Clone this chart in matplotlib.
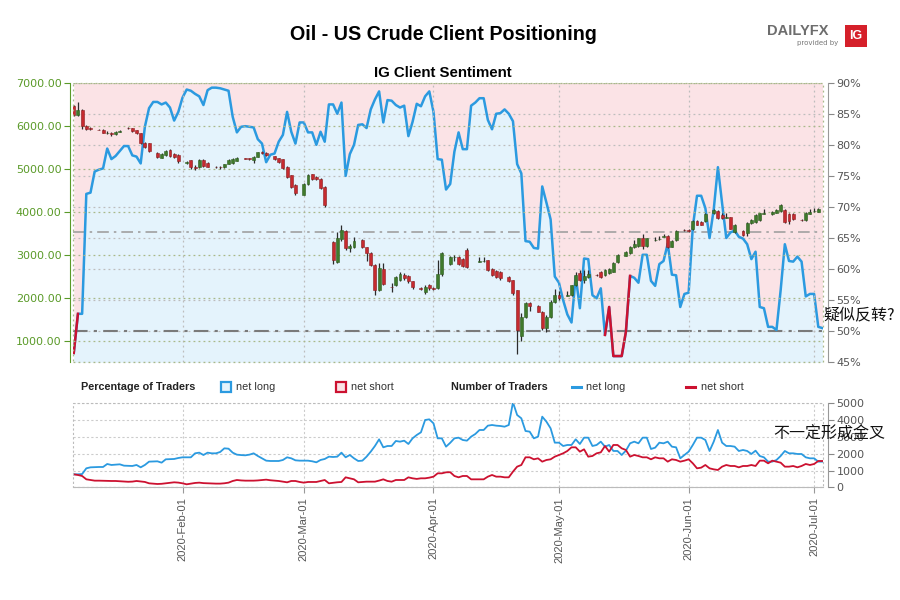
import matplotlib
matplotlib.use("Agg")
import matplotlib.pyplot as plt
import matplotlib.dates as mdates
from matplotlib.patches import Rectangle
from matplotlib.ticker import FuncFormatter
import numpy as np
import pandas as pd

# ---------------- data ----------------
first_day = "2020-01-06"

# % of clients net long, one value per calendar day from 2020-01-06
pct_long = [
    46.5, 52.8, 52.8, 72.1, 72.3, 75.7, 76.0, 76.2, 79.4, 77.7, 78.2, 79.0, 79.8, 79.8, 78.3, 78.1,
    77.0, 82.9, 85.9, 86.9, 86.9, 86.5, 86.8, 86.0, 83.9, 85.3, 87.6, 88.9, 88.7, 88.2, 87.8, 86.4,
    88.8, 89.2, 89.2, 89.1, 88.9, 88.7, 84.5, 82.0, 82.9, 83.0, 82.9, 82.8, 80.9, 80.2, 77.2, 78.4,
    78.6, 80.5, 81.6, 85.3, 82.1, 80.2, 83.6, 83.6, 82.0, 82.0, 80.0, 82.1, 80.5, 86.5, 86.5, 85.0,
    86.8, 75.0, 78.5, 80.0, 83.2, 83.3, 82.7, 85.7, 87.3, 88.6, 83.6, 87.2, 87.1, 86.4, 86.0, 86.3,
    81.4, 83.7, 86.6, 86.2, 87.8, 88.6, 85.3, 77.7, 77.6, 72.8, 73.7, 78.9, 82.0, 79.3, 79.3, 86.3,
    86.8, 87.5, 87.5, 84.0, 82.5, 85.0, 85.1, 85.7, 85.0, 83.8, 76.9, 75.4, 64.5, 64.4, 63.4, 63.3,
    73.3, 70.7, 68.0, 58.8, 57.8, 55.0, 52.7, 51.4, 58.8, 53.7, 61.7, 61.6, 55.8, 55.3, 56.9, 49.4,
    53.9, 46.0, 46.0, 46.0, 49.9, 58.9, 58.6, 57.8, 62.3, 62.3, 58.1, 57.3, 60.8, 61.3, 64.1, 59.1,
    59.0, 53.9, 56.0, 56.2, 66.8, 71.8, 71.8, 69.8, 65.0, 69.6, 76.4, 70.6, 65.0, 65.9, 66.2, 65.2,
    64.9, 64.0, 61.6, 62.8, 53.9, 53.7, 50.7, 50.7, 50.2, 56.6, 64.0, 61.3, 61.2, 62.0, 61.2, 55.6,
    56.0, 56.0, 50.7, 50.5,
]

traders_long = [
    774, 774, 790, 1131, 1190, 1200, 1210, 1210, 1389, 1330, 1350, 1369, 1290, 1280, 1270, 1330,
    1190, 1330, 1528, 1540, 1548, 1468, 1667, 1680, 1687, 1746, 1786, 1786, 1786, 2024, 2063, 1924,
    2063, 2024, 2024, 2103, 2321, 2300, 2063, 1944, 1920, 1905, 1944, 2024, 1865, 1726, 1587, 1567,
    1567, 1567, 1627, 1786, 1726, 1607, 1587, 1587, 1587, 1550, 1488, 1627, 1687, 1825, 1805, 1825,
    2063, 1786, 1925, 1726, 1567, 1587, 1825, 2123, 2460, 2857, 2381, 2460, 2460, 2758, 2718, 2777,
    2579, 2916, 3115, 3274, 4008, 4047, 3809, 2916, 2916, 2420, 2650, 2916, 2956, 2817, 2778, 3016,
    3174, 3412, 3412, 3670, 3710, 3670, 3650, 3610, 3710, 5059, 4305, 4107, 3353, 3313, 2916, 3016,
    4206, 3908, 3512, 2658, 2658, 2460, 2520, 2520, 2857, 2579, 2956, 2956, 2460, 2520, 2718, 2420,
    2520, 2163, 2163, 1925, 2182, 2619, 2718, 2619, 2956, 2956, 2281, 2361, 2658, 2619, 2718, 2420,
    2381, 1726, 1925, 2123, 2520, 2956, 2956, 2817, 2163, 2718, 3412, 2658, 2460, 2460, 2420, 2163,
    2222, 2163, 1984, 2182, 1865, 1786, 1528, 1528, 1627, 1865, 2163, 2024, 2024, 1984, 1984, 1786,
    1726, 1726, 1528, 1528,
]

traders_short = [
    774, 734, 675, 476, 436, 397, 397, 390, 377, 377, 377, 360, 337, 330, 340, 377,
    350, 320, 238, 218, 198, 210, 238, 270, 298, 280, 238, 179, 220, 260, 278, 250,
    238, 220, 220, 220, 240, 278, 377, 436, 410, 397, 397, 397, 410, 430, 456, 420,
    400, 377, 340, 298, 377, 377, 318, 278, 318, 318, 318, 377, 436, 238, 270, 300,
    318, 595, 536, 476, 298, 318, 337, 337, 337, 400, 476, 377, 337, 436, 436, 436,
    595, 536, 500, 536, 536, 575, 635, 833, 833, 893, 900, 675, 595, 675, 675, 476,
    476, 476, 476, 635, 734, 635, 635, 595, 595, 932, 1230, 1329, 1786, 1786, 1667, 1726,
    1528, 1627, 1667, 1825, 1925, 2024, 2163, 2381, 2381, 2123, 2262, 1825, 1865, 2024, 2083, 2460,
    2123, 2520, 2520, 2321, 2222, 1825, 1925, 1865, 1786, 1786, 1667, 1786, 1726, 1726, 1528, 1667,
    1627, 1528, 1587, 1667, 1428, 1131, 1171, 1329, 1131, 1071, 1032, 1230, 1329, 1270, 1270, 1190,
    1270, 1270, 1329, 1270, 1587, 1587, 1428, 1587, 1528, 1468, 1230, 1230, 1270, 1190, 1270, 1389,
    1329, 1389, 1567, 1567,
]

# stretches where the sentiment line is drawn red
net_short_spans = [("2020-01-06", "2020-01-07"), ("2020-05-12", "2020-05-18")]

# US Crude daily candles (Sun-Fri sessions, no Saturdays, no Good Friday)
no_session = ["2020-04-10"]
last_day = "2020-07-02"

price_open = [
    6450, 6250, 6360, 6000, 5950,
    5910, 5910, 5840, 5820, 5810, 5860,
    5950, 5940, 5900, 5830, 5600, 5590,
    5370, 5260, 5320, 5430, 5340, 5330,
    5140, 5200, 5030, 5030, 5210, 5140,
    5050, 5040, 5030, 5110, 5130, 5190,
    5240, 5250, 5200, 5280, 5390, 5370,
    5290, 5240, 5220, 5050, 4850, 4620,
    4400, 4640, 4870, 4800, 4760, 4580,
    3300, 2840, 3360, 3560, 3150, 3170,
    3340, 3170, 3050, 2760, 2180, 2660,
    2250, 2300, 2420, 2540, 2500, 2380,
    2230, 2140, 2290, 2220, 2230, 2560,
    2780, 2940, 2950, 2910, 3120,
    2840, 2850, 2870, 2680, 2630, 2600,
    2490, 2410, 2180, 1100, 1560, 1870,
    1810, 1680, 1290, 1560, 1910, 2060,
    2050, 2070, 2290, 2580, 2420, 2490,
    2530, 2600, 2520, 2570, 2600, 2820,
    2980, 3040, 3170, 3200, 3380, 3200,
    3340, 3360, 3420, 3430, 3190, 3340,
    3580, 3570, 3590, 3790, 3760, 3780,
    3960, 4020, 3920, 3860, 3870, 3540,
    3560, 3500, 3730, 3750, 3800, 3950,
    3950, 3980, 4010, 4040, 3950, 3940,
    3810, 3800, 3950, 4010, 4000,
]
price_high = [
    6480, 6560, 6380, 6020, 5980,
    5920, 5920, 5870, 5850, 5880, 5900,
    5960, 5950, 5910, 5840, 5620, 5600,
    5380, 5370, 5430, 5450, 5360, 5340,
    5180, 5210, 5080, 5230, 5230, 5160,
    5060, 5060, 5120, 5220, 5240, 5270,
    5250, 5260, 5290, 5400, 5410, 5380,
    5300, 5250, 5230, 5060, 4860, 4640,
    4660, 4870, 4880, 4820, 4780, 4590,
    3330, 3520, 3700, 3580, 3260, 3420,
    3360, 3190, 3070, 2780, 2800, 2800,
    2350, 2500, 2600, 2580, 2530, 2400,
    2240, 2290, 2310, 2260, 2870, 3060,
    2960, 3000, 2960, 2930, 3160,
    2950, 2950, 2880, 2700, 2640, 2620,
    2500, 2420, 2190, 1640, 1890, 1900,
    1830, 1700, 1600, 1940, 2200, 2150,
    2150, 2300, 2600, 2650, 2650, 2640,
    2560, 2620, 2660, 2700, 2830, 3010,
    3090, 3200, 3350, 3400, 3480, 3400,
    3420, 3440, 3480, 3450, 3350, 3580,
    3600, 3600, 3800, 3810, 3780, 3960,
    4060, 4040, 3960, 3960, 3880, 3710,
    3580, 3760, 3830, 3940, 3980, 4060,
    4010, 4070, 4180, 4060, 3970, 3960,
    3820, 4000, 4060, 4080, 4080,
]
price_low = [
    6220, 6220, 5920, 5890, 5890,
    5890, 5820, 5800, 5760, 5790, 5850,
    5930, 5850, 5800, 5570, 5480, 5400,
    5240, 5240, 5300, 5270, 5260, 5140,
    5120, 5000, 4980, 5010, 5050, 5030,
    5020, 5000, 5020, 5100, 5110, 5180,
    5220, 5200, 5140, 5270, 5340, 5300,
    5200, 5140, 4990, 4780, 4560, 4400,
    4380, 4620, 4740, 4740, 4530, 4120,
    2790, 2800, 3330, 3100, 3060, 3150,
    3150, 2860, 2740, 2060, 2150, 2290,
    2130, 2280, 2400, 2420, 2350, 2200,
    2180, 2090, 2170, 2170, 2200, 2510,
    2760, 2860, 2760, 2720, 2690,
    2830, 2830, 2630, 2510, 2460, 2420,
    2360, 2060, 700, 1000, 1540, 1700,
    1660, 1250, 1200, 1520, 1880, 1950,
    2040, 2050, 2280, 2400, 2350, 2470,
    2500, 2470, 2500, 2550, 2590, 2800,
    2960, 3020, 3150, 3180, 3130, 3180,
    3330, 3350, 3410, 3150, 3170, 3320,
    3550, 3520, 3570, 3680, 3680, 3760,
    3950, 3830, 3830, 3850, 3590, 3500,
    3440, 3440, 3710, 3730, 3780, 3940,
    3930, 3960, 3990, 3740, 3720, 3810,
    3790, 3780, 3940, 4000, 3990,
]
price_close = [
    6250, 6360, 6000, 5930, 5920,
    5900, 5840, 5840, 5800, 5860, 5880,
    5940, 5870, 5820, 5590, 5500, 5420,
    5270, 5350, 5420, 5290, 5280, 5170,
    5160, 5030, 5020, 5210, 5070, 5050,
    5040, 5030, 5110, 5200, 5220, 5260,
    5230, 5220, 5280, 5380, 5360, 5320,
    5220, 5160, 5010, 4800, 4580, 4430,
    4640, 4850, 4760, 4760, 4550, 4150,
    2880, 3380, 3570, 3150, 3200, 3330,
    3170, 3030, 2760, 2180, 2700, 2320,
    2240, 2480, 2560, 2450, 2380, 2260,
    2210, 2250, 2220, 2200, 2560, 3030,
    2940, 2950, 2790, 2740, 2710,
    2850, 2860, 2650, 2530, 2480, 2450,
    2380, 2120, 1250, 1560, 1870, 1800,
    1680, 1290, 1560, 1910, 2060, 1990,
    2060, 2290, 2530, 2420, 2500, 2560,
    2520, 2490, 2640, 2680, 2810, 2990,
    3070, 3170, 3260, 3380, 3200, 3380,
    3350, 3370, 3430, 3180, 3330, 3550,
    3570, 3560, 3790, 3700, 3700, 3940,
    4040, 3850, 3850, 3870, 3610, 3700,
    3460, 3740, 3810, 3920, 3960, 3970,
    4000, 4050, 4150, 3770, 3780, 3830,
    3800, 3980, 4000, 4020, 4060,
]

ref_levels = [50, 66]

# ---------------- styling ----------------
BLUE = "#2b9ae0"
RED = "#cc1130"
BLUE_FILL = "#e4f3fc"
PINK_FILL = "#fbe3e6"
GREEN_AX = "#5a9a28"
GRID_G = "#a9b98a"
GRID_N = "#bdbdbd"
TXT = "#555555"
SANS = ["Liberation Sans", "DejaVu Sans"]

plt.rcParams["font.family"] = ["DejaVu Sans"]

sent_dates = pd.date_range(first_day, periods=len(pct_long), freq="D")
xs = mdates.date2num(sent_dates)
pct = np.array(pct_long)

cdays = pd.date_range(first_day, last_day, freq="D")
cdays = cdays[(cdays.dayofweek != 5) & (~cdays.isin(pd.to_datetime(no_session)))]
xc = mdates.date2num(cdays)
o = np.array(price_open); h = np.array(price_high)
l = np.array(price_low); c = np.array(price_close)

fig = plt.figure(figsize=(9, 6), dpi=100)
ax = fig.add_axes([0.0808, 0.3962, 0.8333, 0.466])
ax_s = ax.twinx()
ax.set_zorder(ax_s.get_zorder() + 1)
ax.patch.set_visible(False)
ax_b = fig.add_axes([0.0808, 0.1878, 0.8333, 0.14], sharex=ax)

# sentiment (right scale)
ax_s.fill_between(xs, 45, pct, color=BLUE_FILL, lw=0, zorder=0.5)
ax_s.fill_between(xs, pct, 90, color=PINK_FILL, lw=0, zorder=0.5)
ax_s.plot(xs, pct, color=BLUE, lw=1.8, zorder=3)
for a, b in net_short_spans:
    m = (sent_dates >= a) & (sent_dates <= b)
    ax_s.plot(xs[m], pct[m], color=RED, lw=1.8, zorder=3.1)
ax_s.axhline(ref_levels[0], color="#7a7a7a", lw=1.5, ls=(0, (7, 3, 1.5, 3)), zorder=2)
ax_s.axhline(ref_levels[1], color="#a0a0a0", lw=1.2, ls=(0, (7, 3, 1.5, 3)), zorder=2)
ax_s.set_ylim(45, 90)
ax_s.set_yticks(np.arange(45, 91, 5))
ax_s.yaxis.set_major_formatter(FuncFormatter(lambda v, p: f"{v:.0f}%"))
ax_s.yaxis.grid(True, ls=(0, (1.5, 2.5)), color=GRID_N, lw=0.9)
ax_s.tick_params(axis="y", colors="#888888", labelcolor=TXT, labelsize=8, length=4, pad=2)
for s in ["left", "top", "bottom"]:
    ax_s.spines[s].set_visible(False)
ax_s.spines["right"].set_color("#999999")
ax_s.spines["right"].set_position(("outward", 4))

# candles (left scale)
up = c >= o
ax.vlines(xc, l, h, color="#2b2b2b", lw=0.9, zorder=3)
ax.bar(xc[up], (c - o)[up], bottom=o[up], width=0.7, color="#3f7a2c",
       edgecolor="#2f5e20", lw=0.4, zorder=4)
ax.bar(xc[~up], (c - o)[~up], bottom=o[~up], width=0.7, color="#c62a2f",
       edgecolor="#8e1f22", lw=0.4, zorder=4)
ax.set_ylim(500, 7000)
ax.set_yticks(np.arange(1000, 7001, 1000))
ax.yaxis.set_major_formatter(FuncFormatter(lambda v, p: f"{v:.2f}"))
ax.yaxis.grid(True, ls=(0, (1.5, 2.5)), color=GRID_G, lw=0.9)
ax.xaxis.grid(True, ls=(0, (1.5, 2.5)), color=GRID_N, lw=0.9)
ax.tick_params(axis="y", colors=GREEN_AX, labelsize=8, length=4, pad=2)
ax.tick_params(axis="x", bottom=False, labelbottom=False)
for s in ["right", "top", "bottom"]:
    ax.spines[s].set_visible(False)
ax.spines["left"].set_color(GREEN_AX)
ax.spines["left"].set_position(("outward", 2))
ax.add_patch(Rectangle((0, 0), 1, 1, transform=ax.transAxes, fill=False,
                       ls=(0, (1.5, 2.5)), ec=GRID_G, lw=0.9, zorder=5, clip_on=False))

# traders count panel
ax_b.plot(xs, traders_long, color=BLUE, lw=1.3)
ax_b.plot(xs, traders_short, color=RED, lw=1.3)
ax_b.set_ylim(0, 5000)
ax_b.set_yticks(np.arange(0, 5001, 1000))
ax_b.yaxis.tick_right()
ax_b.yaxis.grid(True, ls=(0, (2, 2)), color="#cccccc", lw=0.8)
ax_b.xaxis.grid(True, ls=(0, (2, 2)), color="#cccccc", lw=0.8)
ax_b.tick_params(axis="y", colors="#888888", labelcolor=TXT, labelsize=8, length=4, pad=2)
for s in ["left", "top"]:
    ax_b.spines[s].set_visible(False)
ax_b.spines["right"].set_color("#999999")
ax_b.spines["right"].set_position(("outward", 4))
ax_b.spines["bottom"].set_color("#bbbbbb")
ax_b.add_patch(Rectangle((0, 0), 1, 1, transform=ax_b.transAxes, fill=False,
                         ls=(0, (2, 2)), ec="#bbbbbb", lw=0.8, zorder=5, clip_on=False))

ax_b.xaxis.set_major_locator(mdates.MonthLocator())
ax_b.xaxis.set_major_formatter(mdates.DateFormatter("%Y-%b-%d"))
ax_b.tick_params(axis="x", colors="#999999", labelcolor=TXT, length=4, labelsize=8,
                 labelrotation=90, pad=3)
for t in ax_b.get_xticklabels():
    t.set_family(SANS)

ax.set_xlim(mdates.date2num(pd.Timestamp(first_day)) - 0.25,
            mdates.date2num(pd.Timestamp("2020-07-03")) + 0.05)

# titles and legend row
fig.text(443 / 900, 1 - 35 / 600, "Oil - US Crude Client Positioning", ha="center",
         va="center", fontsize=14.2, fontweight="bold", family=SANS)
fig.text(443 / 900, 1 - 73 / 600, "IG Client Sentiment", ha="center", va="center",
         fontsize=10.8, fontweight="bold", family=SANS)

ly = 1 - 387 / 600
LEG = dict(va="center", fontsize=7.8, family=SANS)
fig.text(81 / 900, ly, "Percentage of Traders", fontweight="bold", color="#222222", **LEG)
fig.add_artist(Rectangle((221 / 900, 1 - 392 / 600), 10 / 900, 10 / 600,
                         transform=fig.transFigure, fc=BLUE_FILL, ec=BLUE, lw=1.6))
fig.text(236 / 900, ly, "net long", color="#333333", **LEG)
fig.add_artist(Rectangle((336 / 900, 1 - 392 / 600), 10 / 900, 10 / 600,
                         transform=fig.transFigure, fc=PINK_FILL, ec=RED, lw=1.6))
fig.text(351 / 900, ly, "net short", color="#333333", **LEG)
fig.text(451 / 900, ly, "Number of Traders", fontweight="bold", color="#222222", **LEG)
fig.add_artist(plt.Line2D([572 / 900, 581 / 900], [ly, ly], transform=fig.transFigure,
                          color=BLUE, lw=2.2))
fig.text(586 / 900, ly, "net long", color="#333333", **LEG)
fig.add_artist(plt.Line2D([686 / 900, 695 / 900], [ly, ly], transform=fig.transFigure,
                          color=RED, lw=2.2))
fig.text(701 / 900, ly, "net short", color="#333333", **LEG)

# DailyFX mark
fig.text(798 / 900, 1 - 31 / 600, "DAILYFX", ha="center", va="center", fontsize=10.5,
         fontweight="bold", color="#6d6d6d", family=SANS)
fig.text(818 / 900, 1 - 43 / 600, "provided by", ha="center", va="center", fontsize=5,
         color="#777777")
fig.add_artist(Rectangle((845 / 900, 1 - 47 / 600), 22 / 900, 22 / 600,
                         transform=fig.transFigure, fc="#d5202a", ec="none"))
fig.text(856 / 900, 1 - 36 / 600, "IG", ha="center", va="center", fontsize=9,
         fontweight="bold", color="white", family=SANS)

# annotations (placed over the chart as in the source image)
cjk = ["Noto Sans CJK SC", "DejaVu Sans"]
fig.text(823 / 900, 1 - 316 / 600, "疑似反转?", va="center", ha="left", fontsize=11.5,
         family=cjk, color="#111111")
fig.text(773 / 900, 1 - 434 / 600, "不一定形成金叉", va="center", ha="left", fontsize=11.5,
         family=cjk, color="#111111")

fig.savefig("out.png", dpi=100)
